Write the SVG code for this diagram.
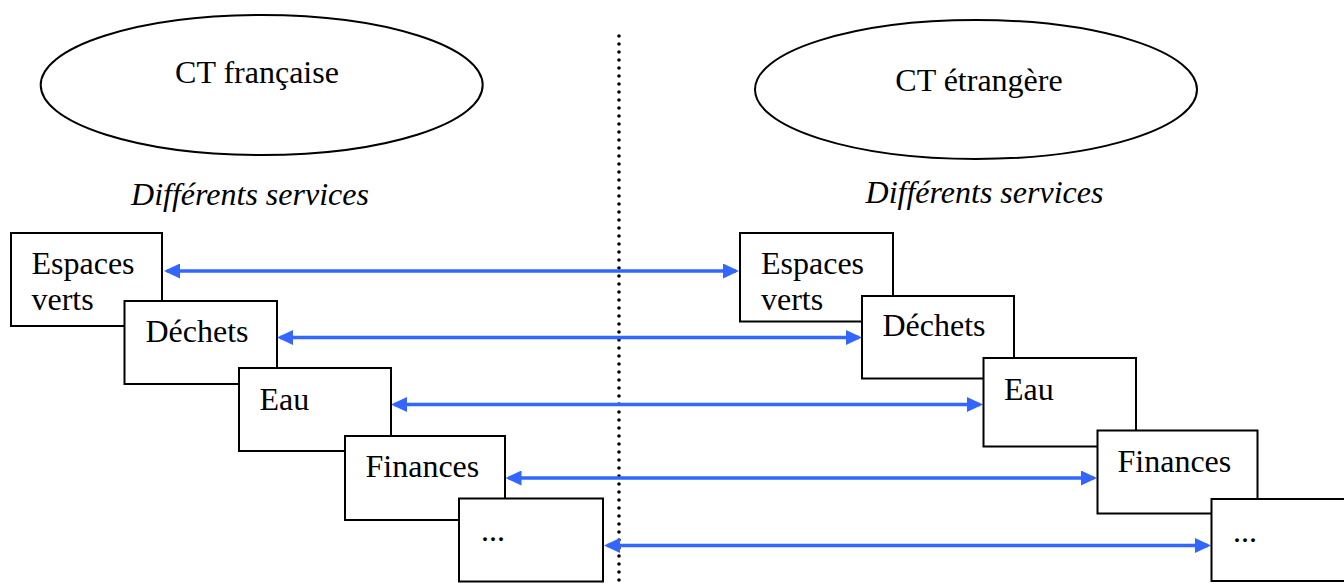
<svg xmlns="http://www.w3.org/2000/svg" width="1344" height="585" viewBox="0 0 1344 585">
<style>
  .box{fill:#fff;stroke:#000;stroke-width:2}
  .ell{fill:#fff;stroke:#000;stroke-width:2}
  .t{font-family:"Liberation Serif","Times New Roman",serif;font-size:32px;fill:#000}
  .it{font-style:italic}
  .arr{stroke:#3366ff;stroke-width:3.5;fill:none;marker-start:url(#ah);marker-end:url(#ah)}
  .sep{stroke:#000;stroke-width:3.6;stroke-linecap:round;stroke-dasharray:0 8;fill:none}
</style>
<defs>
  <marker id="ah" markerUnits="userSpaceOnUse" markerWidth="16" markerHeight="15" viewBox="0 0 16 15" refX="13" refY="7.5" orient="auto-start-reverse">
    <path d="M0,0 L16,7.5 L0,15 z" fill="#3366ff"/>
  </marker>
</defs>
<rect width="1344" height="585" fill="#fff"/>

<g id="separator">
  <line class="sep" x1="619" y1="36" x2="619" y2="585"/>
</g>

<g id="ct-francaise">
  <ellipse class="ell" cx="261.7" cy="85" rx="221" ry="70"/>
  <text class="t" x="257" y="83" text-anchor="middle">CT française</text>
</g>
<g id="ct-etrangere">
  <ellipse class="ell" cx="976" cy="89.5" rx="221" ry="69.5"/>
  <text class="t" x="979" y="90.5" text-anchor="middle">CT étrangère</text>
</g>
<text id="label-left" class="t it" x="250" y="205" text-anchor="middle">Différents services</text>
<text id="label-right" class="t it" x="984.5" y="202.5" text-anchor="middle">Différents services</text>

<g id="connectors">
  <line class="arr" x1="167" y1="271" x2="736" y2="271"/>
  <line class="arr" x1="280" y1="337.5" x2="859" y2="337.5"/>
  <line class="arr" x1="394" y1="404.5" x2="980" y2="404.5"/>
  <line class="arr" x1="508.5" y1="478" x2="1094" y2="478"/>
  <line class="arr" x1="607" y1="545.5" x2="1208" y2="545.5"/>
</g>

<g id="left-espaces-verts">
  <rect class="box" x="11" y="233" width="151" height="93"/>
  <text class="t" x="31.5" y="273.5">Espaces</text>
  <text class="t" x="31.5" y="310">verts</text>
</g>
<g id="left-dechets">
  <rect class="box" x="124.5" y="301" width="152.5" height="83"/>
  <text class="t" x="145.5" y="341.5">Déchets</text>
</g>
<g id="left-eau">
  <rect class="box" x="239" y="368" width="152" height="83"/>
  <text class="t" x="259.5" y="409.5">Eau</text>
</g>
<g id="left-finances">
  <rect class="box" x="345" y="436" width="160" height="84"/>
  <text class="t" x="365.5" y="476.5">Finances</text>
</g>
<g id="left-etc">
  <rect class="box" x="459" y="498.5" width="144" height="83"/>
  <text class="t" x="481" y="541">...</text>
</g>

<g id="right-espaces-verts">
  <rect class="box" x="740" y="233" width="153" height="88.5"/>
  <text class="t" x="761" y="273.5">Espaces</text>
  <text class="t" x="761" y="309.5">verts</text>
</g>
<g id="right-dechets">
  <rect class="box" x="862" y="296" width="152" height="82.5"/>
  <text class="t" x="882.5" y="335.5">Déchets</text>
</g>
<g id="right-eau">
  <rect class="box" x="983.5" y="358" width="152.5" height="88.5"/>
  <text class="t" x="1004" y="399.5">Eau</text>
</g>
<g id="right-finances">
  <rect class="box" x="1097.5" y="430.5" width="160" height="83"/>
  <text class="t" x="1117.5" y="471.5">Finances</text>
</g>
<g id="right-etc">
  <rect class="box" x="1211.5" y="499" width="140" height="82"/>
  <text class="t" x="1233" y="541.5">...</text>
</g>
</svg>
